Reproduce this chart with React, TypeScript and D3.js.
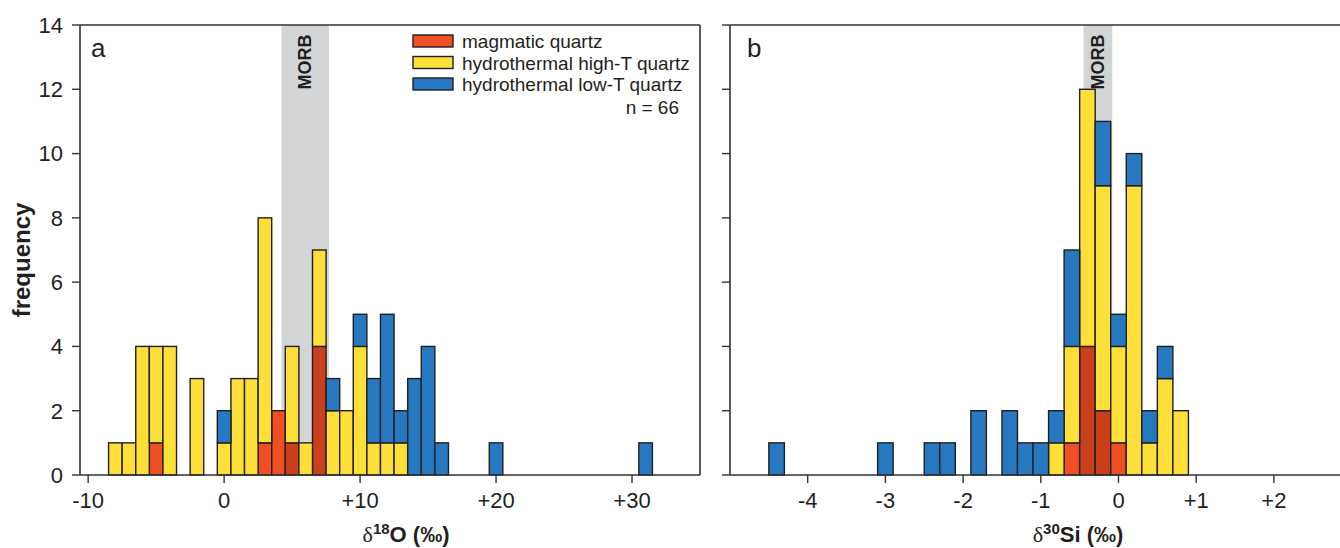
import React, { useEffect, useRef } from 'react';
import * as d3 from 'd3';

// panel a: delta 18O, 1 permil bins (bin centres)
const o18Bins = [-8, -7, -6, -5, -4, -2, 0, 1, 2, 3, 4, 5, 6, 7, 8, 9, 10, 11, 12, 13, 14, 15, 16, 20, 31];
const o18Magmatic = [0, 0, 0, 1, 0, 0, 0, 0, 0, 1, 2, 1, 0, 4, 0, 0, 0, 0, 0, 0, 0, 0, 0, 0, 0];
const o18HighT = [1, 1, 4, 3, 4, 3, 1, 3, 3, 7, 0, 3, 1, 3, 2, 2, 4, 1, 1, 1, 0, 0, 0, 0, 0];
const o18LowT = [0, 0, 0, 0, 0, 0, 1, 0, 0, 0, 0, 0, 0, 0, 1, 0, 1, 2, 4, 1, 3, 4, 1, 1, 1];
const o18Ticks = [-10, 0, 10, 20, 30];
const o18Morb = [4.22, 7.72];

// panel b: delta 30Si, 0.2 permil bins (bin centres)
const si30Bins = [-4.4, -3.0, -2.4, -2.2, -1.8, -1.4, -1.2, -1.0, -0.8, -0.6, -0.4, -0.2, 0.0, 0.2, 0.4, 0.6, 0.8];
const si30Magmatic = [0, 0, 0, 0, 0, 0, 0, 0, 0, 1, 4, 2, 1, 0, 0, 0, 0];
const si30HighT = [0, 0, 0, 0, 0, 0, 0, 0, 1, 3, 8, 7, 3, 9, 1, 3, 2];
const si30LowT = [1, 1, 1, 1, 2, 2, 1, 1, 1, 3, 0, 2, 1, 1, 1, 1, 0];
const si30Ticks = [-4, -3, -2, -1, 0, 1, 2];
const si30Morb = [-0.45, -0.08];

const freqTicks = [0, 2, 4, 6, 8, 10, 12, 14];
const seriesNames = ['magmatic quartz', 'hydrothermal high-T quartz', 'hydrothermal low-T quartz'];
const colors = ['#f04e23', '#fddf3a', '#2679c1'];
const darkRed = '#c9401a';
const FONT = 'Liberation Sans, Arial, sans-serif';

const App = () => {
  const svgRef = useRef(null);

  useEffect(() => {
    const svg = d3.select(svgRef.current);
    svg.selectAll('*').remove();

    const y = d3.scaleLinear().domain([0, 14]).range([475, 25]);
    const fmt = (v) => (v > 0 ? `+${v}` : `${v}`);

    const panel = (opts) => {
      const { x, bins, width, series, ticks, morb, left, right, label, labelX, title, sup, titleX, yLabels } = opts;
      const g = svg.append('g');

      // MORB band
      g.append('rect')
        .attr('x', x(morb[0]))
        .attr('y', y(14))
        .attr('width', x(morb[1]) - x(morb[0]))
        .attr('height', y(0) - y(14))
        .attr('fill', '#d3d4d6');

      // stacked bars
      const rows = bins.map((b, i) => ({ bin: b, m: series[0][i], h: series[1][i], l: series[2][i] }));
      const stack = d3.stack().keys(['m', 'h', 'l'])(rows);
      stack.forEach((layer, k) => {
        g.selectAll(null)
          .data(layer.filter((d) => d[1] > d[0]))
          .join('rect')
          .attr('x', (d) => x(d.data.bin - width / 2))
          .attr('width', (d) => x(d.data.bin + width / 2) - x(d.data.bin - width / 2))
          .attr('y', (d) => y(d[1]))
          .attr('height', (d) => y(d[0]) - y(d[1]))
          .attr('fill', (d) =>
            k === 0 && d.data.bin > morb[0] && d.data.bin < morb[1] ? darkRed : colors[k]
          )
          .attr('stroke', '#231f20')
          .attr('stroke-width', 1.4);
      });

      g.append('text')
        .attr('transform', `translate(${(x(morb[0]) + x(morb[1])) / 2 + 6},62) rotate(-90)`)
        .attr('text-anchor', 'middle')
        .attr('font-family', FONT)
        .attr('font-weight', 'bold')
        .attr('font-size', 18)
        .attr('fill', '#231f20')
        .text('MORB');

      // frame
      const axisColor = '#333';
      g.append('path')
        .attr('d', `M${left},475H${right}M${left},25H${right}M${left},25V475` + (right < 1340 ? `M${right},25V475` : ''))
        .attr('stroke', axisColor)
        .attr('stroke-width', 1.6)
        .attr('fill', 'none');

      // y ticks
      freqTicks.forEach((t) => {
        g.append('line')
          .attr('x1', left - 8).attr('x2', left)
          .attr('y1', y(t)).attr('y2', y(t))
          .attr('stroke', axisColor).attr('stroke-width', 1.4);
        if (yLabels) {
          g.append('text')
            .attr('x', left - 17)
            .attr('y', y(t))
            .attr('dy', '0.36em')
            .attr('text-anchor', 'end')
            .attr('font-family', FONT)
            .attr('font-size', 22)
            .attr('fill', '#231f20')
            .text(t);
        }
      });

      // x ticks
      ticks.forEach((t) => {
        g.append('line')
          .attr('x1', x(t)).attr('x2', x(t))
          .attr('y1', 475).attr('y2', 483)
          .attr('stroke', axisColor).attr('stroke-width', 1.4);
        g.append('text')
          .attr('x', x(t))
          .attr('y', 508)
          .attr('text-anchor', 'middle')
          .attr('font-family', FONT)
          .attr('font-size', 22)
          .attr('fill', '#231f20')
          .text(fmt(t));
      });

      // panel letter
      g.append('text')
        .attr('x', labelX)
        .attr('y', 57)
        .attr('font-family', FONT)
        .attr('font-size', 26)
        .attr('fill', '#231f20')
        .text(label);

      // x title
      const tt = g.append('text')
        .attr('x', titleX)
        .attr('y', 542)
        .attr('text-anchor', 'middle')
        .attr('font-family', FONT)
        .attr('font-size', 22)
        .attr('font-weight', 'bold')
        .attr('fill', '#231f20');
      tt.append('tspan').attr('font-family', 'Liberation Serif, serif').attr('font-weight', 'normal').text('δ');
      tt.append('tspan').attr('font-size', 15).attr('dy', -8).text(sup);
      tt.append('tspan').attr('dy', 8).text(`${title} (‰)`);
    };

    panel({
      x: d3.scaleLinear().domain([-10.6, 35]).range([80, 700]),
      bins: o18Bins,
      width: 1,
      series: [o18Magmatic, o18HighT, o18LowT],
      ticks: o18Ticks,
      morb: o18Morb,
      left: 80,
      right: 700,
      label: 'a',
      labelX: 91,
      title: 'O',
      sup: '18',
      titleX: 406,
      yLabels: true,
    });

    panel({
      x: d3.scaleLinear().domain([-5, 3]).range([730, 1351.6]),
      bins: si30Bins,
      width: 0.2,
      series: [si30Magmatic, si30HighT, si30LowT],
      ticks: si30Ticks,
      morb: si30Morb,
      left: 730,
      right: 1352,
      label: 'b',
      labelX: 747,
      title: 'Si',
      sup: '30',
      titleX: 1078,
      yLabels: false,
    });

    // y title
    svg.append('text')
      .attr('transform', 'translate(30,260) rotate(-90)')
      .attr('text-anchor', 'middle')
      .attr('font-family', FONT)
      .attr('font-size', 24)
      .attr('font-weight', 'bold')
      .attr('fill', '#231f20')
      .text('frequency');

    // legend
    const leg = svg.append('g');
    seriesNames.forEach((name, i) => {
      leg.append('rect')
        .attr('x', 413).attr('y', 35 + i * 21.5)
        .attr('width', 40).attr('height', 12)
        .attr('fill', colors[i])
        .attr('stroke', '#231f20').attr('stroke-width', 1.4);
      leg.append('text')
        .attr('x', 462).attr('y', 48 + i * 21.5)
        .attr('font-family', FONT).attr('font-size', 19)
        .attr('fill', '#231f20')
        .text(name);
    });
    leg.append('text')
      .attr('x', 679).attr('y', 114)
      .attr('text-anchor', 'end')
      .attr('font-family', FONT).attr('font-size', 19)
      .attr('fill', '#231f20')
      .text('n = 66');
  }, []);

  return (
    <svg
      ref={svgRef}
      width={1340}
      height={548}
      style={{ position: 'absolute', left: 0, top: 0, background: '#fff' }}
    />
  );
};

export default App;
